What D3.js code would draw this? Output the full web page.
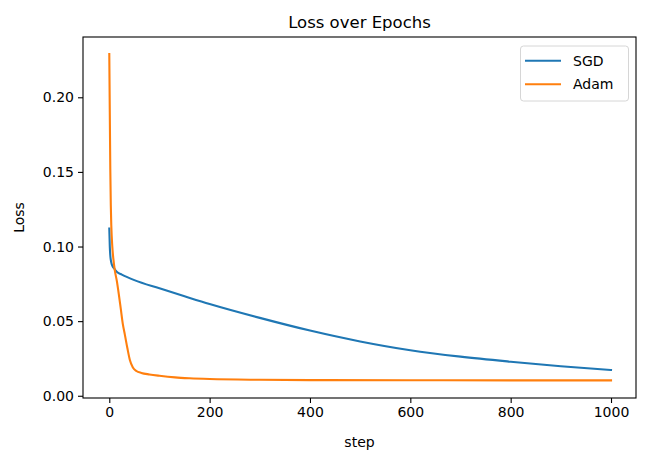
<!DOCTYPE html>
<html>
<head>
<meta charset="utf-8">
<script src="https://cdn.jsdelivr.net/npm/d3@7"></script>
<style>
  html, body { margin: 0; padding: 0; background: #fff; }
  svg { display: block; font-family: "DejaVu Sans", sans-serif; }
</style>
</head>
<body>
<svg id="chart" width="664" height="463"></svg>
<script>
// ---- data ----
const sgdSteps  = [0, 1, 2, 3, 5, 8, 10, 13, 16, 25, 50, 100, 150, 200, 300, 400, 500, 600, 700, 800, 900, 1000];
const sgdLoss   = [0.112, 0.100, 0.094, 0.091, 0.088, 0.086, 0.0852, 0.0838, 0.0828, 0.0812, 0.0775, 0.0720, 0.0667, 0.0615, 0.0522, 0.0437, 0.0364, 0.0305, 0.0262, 0.0228, 0.0198, 0.0173];
const adamSteps = [0, 1, 2, 3, 4, 6, 8, 11, 15, 19, 23, 27, 31, 36, 41, 47, 54, 64, 80, 100, 131, 160, 200, 300, 400, 600, 800, 1000];
const adamLoss  = [0.229, 0.19, 0.152, 0.128, 0.114, 0.100, 0.092, 0.084, 0.077, 0.068, 0.058, 0.048, 0.041, 0.032, 0.024, 0.019, 0.0166, 0.0153, 0.0143, 0.0134, 0.0123, 0.0117, 0.0112, 0.0107, 0.0105, 0.0104, 0.0103, 0.0103];
const xTicks = [0, 200, 400, 600, 800, 1000];
const yTicks = [0.00, 0.05, 0.10, 0.15, 0.20];
const seriesNames = ["SGD", "Adam"];
const seriesColors = ["#1f77b4", "#ff7f0e"];
const titleText = "Loss over Epochs";
const xLabel = "step";
const yLabel = "Loss";

// ---- layout ----
const svg = d3.select("#chart");
const L = 83, R = 636, T = 37, B = 398;

const x = d3.scaleLinear().domain([-52.4, 1049.8]).range([L, R]);
const y = d3.scaleLinear().domain([-0.0015, 0.2404]).range([B, T]);

const series = [
  { name: seriesNames[0], color: seriesColors[0], pts: sgdSteps.map((s, i) => [s, sgdLoss[i]]) },
  { name: seriesNames[1], color: seriesColors[1], pts: adamSteps.map((s, i) => [s, adamLoss[i]]) }
];

const line = d3.line().x(d => x(d[0])).y(d => y(d[1])).curve(d3.curveMonotoneX);

svg.append("g").selectAll("path").data(series).join("path")
  .attr("d", d => line(d.pts))
  .attr("fill", "none")
  .attr("stroke", d => d.color)
  .attr("stroke-width", 2.1)
  .attr("stroke-linejoin", "round")
  .attr("stroke-linecap", "square");

// axes
const xAxis = svg.append("g").attr("transform", `translate(0,${B})`)
  .call(d3.axisBottom(x).tickValues(xTicks).tickFormat(d3.format("d")).tickSizeInner(5).tickSizeOuter(0).tickPadding(4));
const yAxis = svg.append("g").attr("transform", `translate(${L},0)`)
  .call(d3.axisLeft(y).tickValues(yTicks).tickFormat(d3.format(".2f")).tickSizeInner(5).tickSizeOuter(0).tickPadding(4));
[xAxis, yAxis].forEach(g => {
  g.select(".domain").remove();
  g.selectAll("line").attr("stroke", "#000").attr("stroke-width", 1.1);
  g.selectAll("text").attr("font-size", "14px").attr("fill", "#000").attr("font-family", "DejaVu Sans");
});

// frame
svg.append("rect").attr("x", L).attr("y", T).attr("width", R - L).attr("height", B - T)
  .attr("fill", "none").attr("stroke", "#000").attr("stroke-width", 1.1);

// title and labels
svg.append("text").attr("x", (L + R) / 2).attr("y", 28).attr("text-anchor", "middle")
  .attr("font-size", "16.5px").attr("fill", "#000").text(titleText);
svg.append("text").attr("x", (L + R) / 2).attr("y", 447).attr("text-anchor", "middle")
  .attr("font-size", "14px").attr("fill", "#000").text(xLabel);
svg.append("text").attr("transform", `translate(24,${(T + B) / 2}) rotate(-90)`).attr("text-anchor", "middle")
  .attr("font-size", "14px").attr("fill", "#000").text(yLabel);

// legend
const lg = svg.append("g");
lg.append("rect").attr("x", 520.5).attr("y", 46).attr("width", 108).attr("height", 55)
  .attr("rx", 3).attr("fill", "#fff").attr("fill-opacity", 0.8).attr("stroke", "#d6d6d6").attr("stroke-width", 1);
series.forEach((s, i) => {
  const yy = 60.7 + i * 23.6;
  lg.append("line").attr("x1", 525).attr("x2", 561).attr("y1", yy).attr("y2", yy)
    .attr("stroke", s.color).attr("stroke-width", 2.1);
  lg.append("text").attr("x", 573).attr("y", yy + 5).attr("font-size", "14px").attr("fill", "#000").text(s.name);
});
</script>
</body>
</html>
